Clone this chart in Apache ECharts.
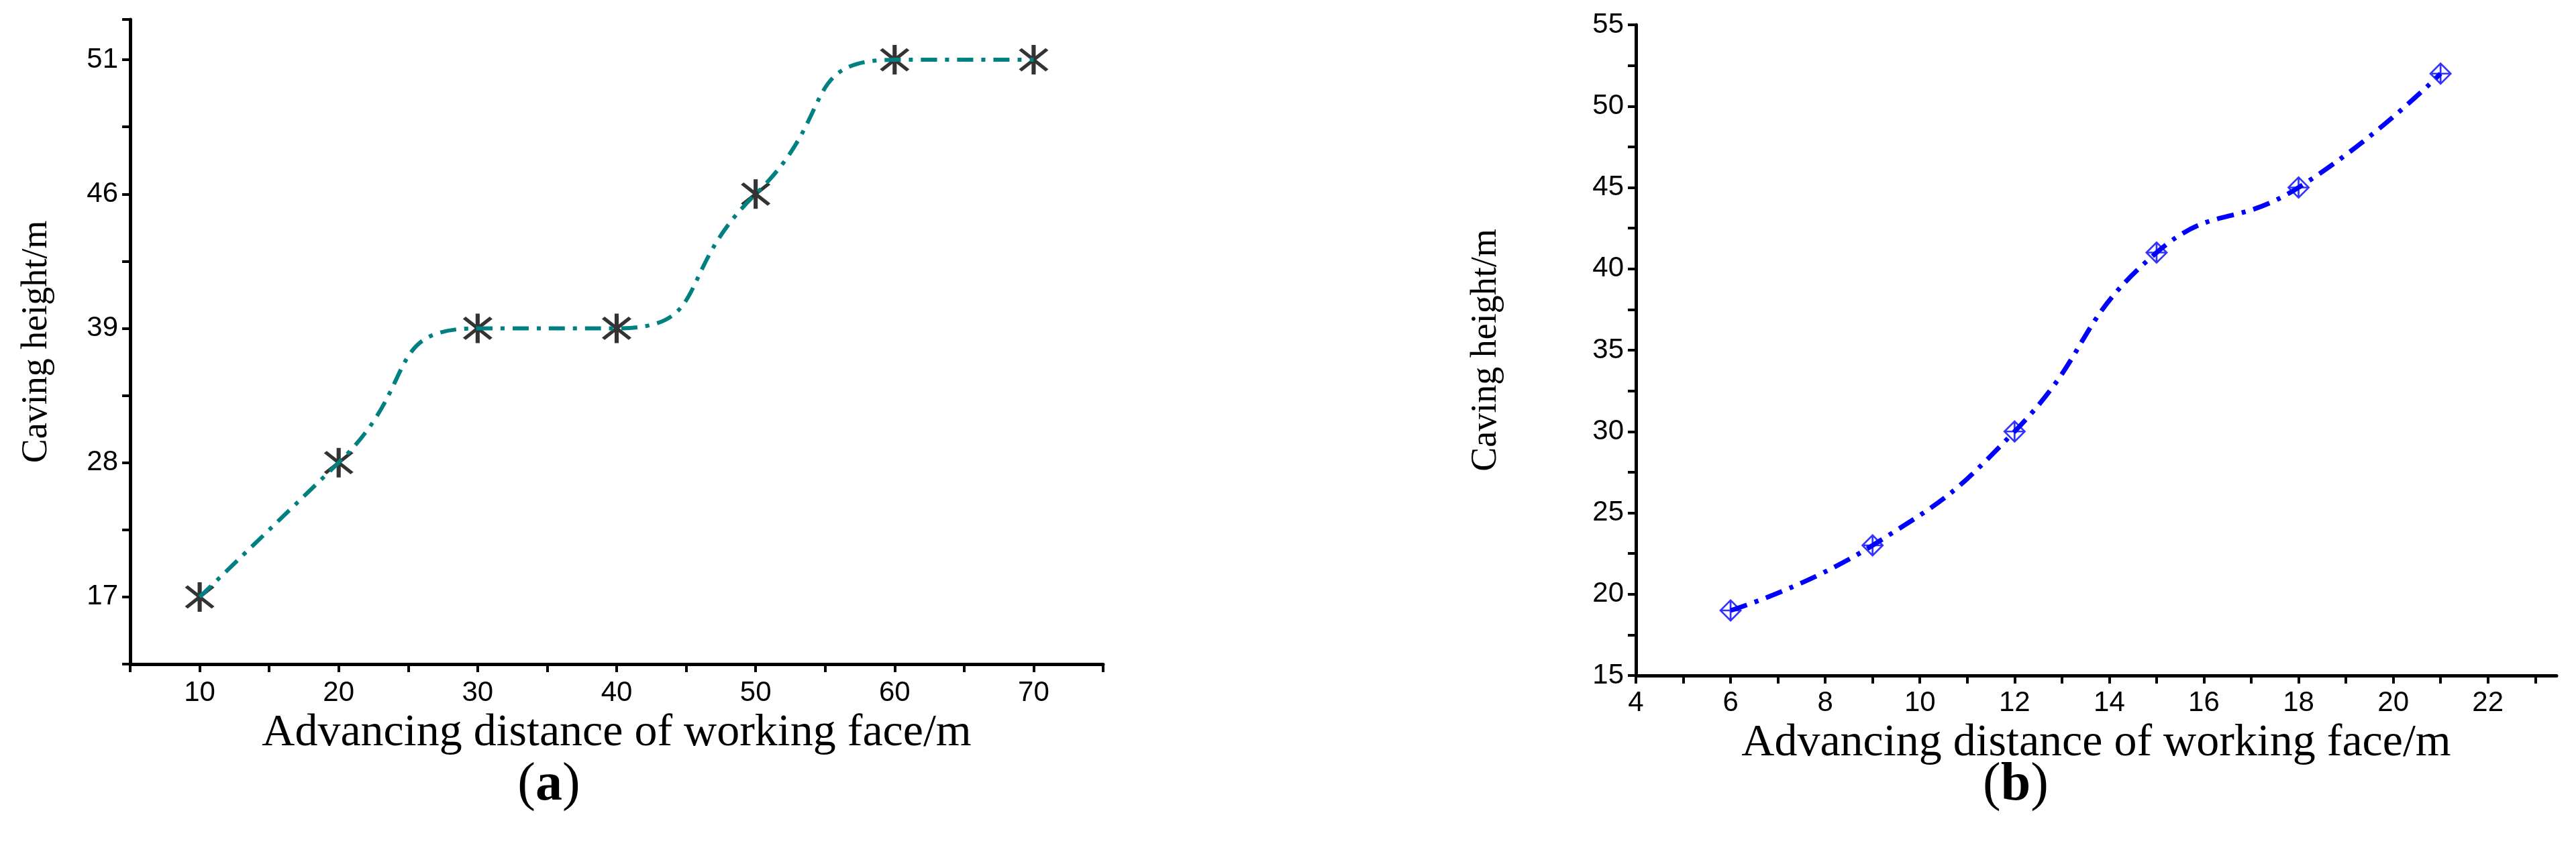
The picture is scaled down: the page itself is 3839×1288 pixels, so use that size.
<!DOCTYPE html>
<html><head><meta charset="utf-8">
<script src="https://cdn.jsdelivr.net/npm/echarts@6/dist/echarts.min.js"></script>
<style>html,body{margin:0;background:#fff}#c{width:3839px;height:1288px}</style>
</head><body><div id="c"></div>
<script>
// Panel (a)
const distA = [10, 20, 30, 40, 50, 60, 70];
const heightA = [17, 28, 39, 39, 46, 51, 51];
const yLabelsA = [17, 28, 39, 46, 51];
// Panel (b)
const distB = [6, 9, 12, 15, 18, 21];
const heightB = [19, 23, 30, 41, 45, 52];

const idxA = heightA.map(v => yLabelsA.indexOf(v));
const serA = distA.map((d, i) => [d, idxA[i]]);
const serB = distB.map((d, i) => [d, heightB[i]]);

const chart = echarts.init(document.getElementById('c'));
const star = 'path://M-1.1,-10L1.1,-10L1.1,10L-1.1,10Z M-7.9,-6.4L-6.4,-7.9L7.9,6.4L6.4,7.9Z M6.4,-7.9L7.9,-6.4L-6.4,7.9L-7.9,6.4Z';
const diamondCross = 'path://M0,-10L10,0L0,10L-10,0Z M0,-7.8L-7.8,0L0,7.8L7.8,0Z M-0.8,-9L0.8,-9L0.8,9L-0.8,9Z M-9,-0.8L9,-0.8L9,0.8L-9,0.8Z';
const axisStyle = {onZero:false, lineStyle:{color:'#000',width:5}};
const tickStyle = {show:true,length:12,lineStyle:{color:'#000',width:4}};
const lblFont = {fontFamily:'Liberation Sans Narrow, Liberation Sans, Arial',fontSize:42,color:'#000'};
const nameFont = {fontFamily:'Liberation Serif, Times New Roman',fontSize:68,color:'#000'};
const yNameFont = {fontFamily:'Liberation Serif, Times New Roman',fontSize:54,color:'#000'};

chart.setOption({
  animation:false,
  grid:[
    {left:194, top:29, width:1450, height:961},
    {left:2438, top:37, width:1372, height:970}
  ],
  xAxis:[
    {type:'value', gridIndex:0, min:5, max:75, interval:5, axisLine:axisStyle, axisTick:tickStyle,
     splitLine:{show:false},
     axisLabel:Object.assign({margin:22, formatter:v => v % 10 === 0 ? String(v) : ''}, lblFont),
     name:'Advancing distance of working face/m', nameLocation:'middle', nameGap:60, nameTextStyle:nameFont},
    {type:'value', gridIndex:1, min:4, max:23.45, interval:1, axisLine:axisStyle, axisTick:tickStyle,
     splitLine:{show:false},
     axisLabel:Object.assign({margin:20, showMaxLabel:false, formatter:v => v % 2 === 0 ? String(v) : ''}, lblFont),
     name:'Advancing distance of working face/m', nameLocation:'middle', nameGap:56, nameTextStyle:nameFont}
  ],
  yAxis:[
    {type:'value', gridIndex:0, min:-0.5, max:4.3, interval:0.5, axisLine:axisStyle, axisTick:tickStyle,
     splitLine:{show:false},
     axisLabel:Object.assign({margin:18, formatter:v => Number.isInteger(v) && yLabelsA[v] !== undefined ? String(yLabelsA[v]) : ''}, lblFont),
     name:'Caving height/m', nameLocation:'middle', nameGap:112, nameTextStyle:yNameFont},
    {type:'value', gridIndex:1, min:15, max:55, interval:2.5, axisLine:axisStyle, axisTick:tickStyle,
     splitLine:{show:false},
     axisLabel:Object.assign({margin:18, formatter:v => v % 5 === 0 ? String(v) : ''}, lblFont),
     name:'Caving height/m', nameLocation:'middle', nameGap:196, nameTextStyle:yNameFont}
  ],
  series:[
    {type:'line', xAxisIndex:0, yAxisIndex:0, data:serA, smooth:0.6, showSymbol:false, symbol:'none',
     lineStyle:{color:'#008080', width:6, type:[24,12,6,12]}},
    {type:'scatter', xAxisIndex:0, yAxisIndex:0, data:serA, symbol:star, symbolSize:44,
     itemStyle:{color:'#000'}},
    {type:'line', xAxisIndex:1, yAxisIndex:1, data:serB, smooth:0.5, showSymbol:false, symbol:'none',
     lineStyle:{color:'#0000ff', width:7, type:[26,12,6,12]}},
    {type:'scatter', xAxisIndex:1, yAxisIndex:1, data:serB, symbol:diamondCross, symbolSize:34,
     itemStyle:{color:'#0000ff'}}
  ],
  graphic:[
    {type:'text', x:818, y:1171, style:{text:'{p|(}{b|a}{p|)}', align:'center', verticalAlign:'middle',
      rich:{p:{fontFamily:'Liberation Serif',fontSize:80,fill:'#000'},b:{fontFamily:'Liberation Serif',fontSize:80,fontWeight:'bold',fill:'#000'}}}},
    {type:'text', x:3004, y:1171, style:{text:'{p|(}{b|b}{p|)}', align:'center', verticalAlign:'middle',
      rich:{p:{fontFamily:'Liberation Serif',fontSize:80,fill:'#000'},b:{fontFamily:'Liberation Serif',fontSize:80,fontWeight:'bold',fill:'#000'}}}}
  ]
});
</script></body></html>
